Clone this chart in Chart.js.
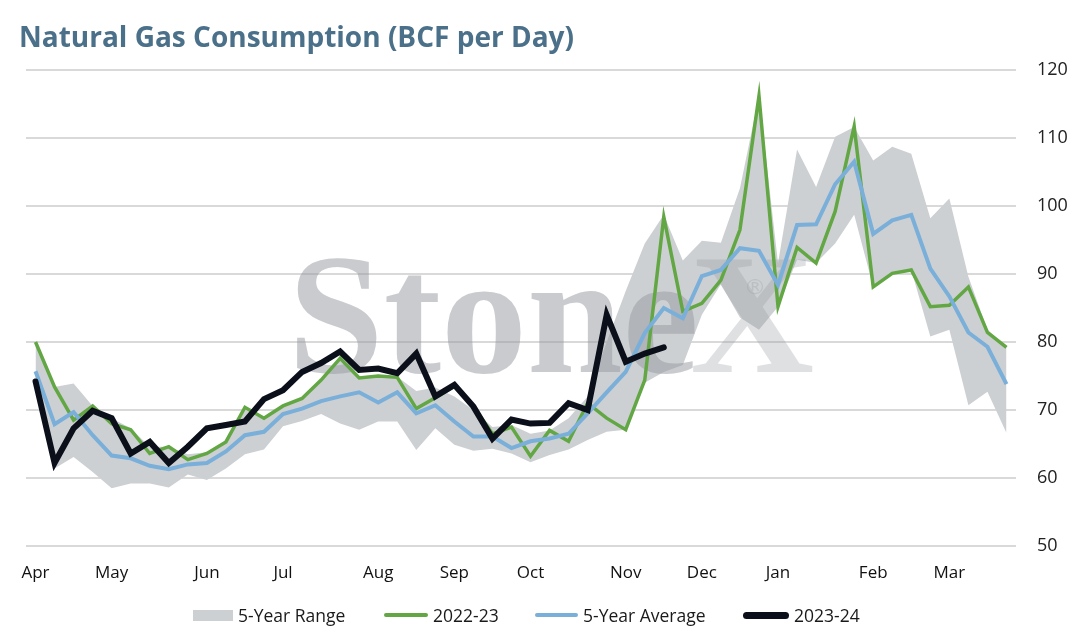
<!DOCTYPE html>
<html>
<head>
<meta charset="utf-8">
<script src="https://cdn.jsdelivr.net/npm/chart.js@4.4.1/dist/chart.umd.min.js"></script>
<style>
  html, body { margin: 0; padding: 0; background: #fff; }
  #wrap { position: relative; width: 1076px; height: 633px; overflow: hidden; }
  #title {
    position: absolute; left: 19px; top: 22px; line-height: 1;
    font-family: "Open Sans", sans-serif; font-weight: 700; font-size: 28px;
    color: #4b7089; white-space: nowrap;
  }
  #chart { position: absolute; left: 0; top: 0; }
  .lg { position: absolute; top: 603px; height: 24px; display: flex; align-items: center;
        font-family: "Open Sans", sans-serif; font-size: 17.5px; color: #1a1a1a; white-space: nowrap; }
  .sw { display: inline-block; margin-right: 5px; }
</style>
</head>
<body>
<div id="wrap">
  <canvas id="chart" width="1076" height="633"></canvas>
  <div id="title">Natural Gas Consumption (BCF per Day)</div>
  <div id="legend"></div>
</div>
<script>
// weekly points, April -> March (52 weeks)
const weekLabels = [
  "Apr", "", "", "", "May", "", "", "", "", "Jun", "", "", "", "Jul", "", "", "", "",
  "Aug", "", "", "", "Sep", "", "", "", "Oct", "", "", "", "", "Nov", "", "", "",
  "Dec", "", "", "", "Jan", "", "", "", "", "Feb", "", "", "", "Mar", "", "", ""
];

const rangeHigh = [
  79.5, 73.4, 73.9, 70.6, 68.8, 67.3, 64.6, 64.6, 63.5, 63.8, 65.5, 70.4, 68.8, 70.6,
  71.9, 74.4, 77.6, 74.9, 75.2, 74.9, 72.8, 73.3, 72.0, 70.0, 67.5, 67.8, 66.5, 67.0,
  68.8, 72.0, 80.0, 87.5, 94.5, 98.7, 92.0, 94.9, 94.6, 102.6, 116.2, 91.6, 108.3,
  102.8, 110.2, 111.6, 106.7, 108.7, 107.7, 98.2, 101.1, 89.6, 81.8, 79.2
];

const rangeLow = [
  74.0, 61.4, 63.1, 60.9, 58.5, 59.2, 59.2, 58.6, 60.5, 59.7, 61.4, 63.5, 64.2, 67.6,
  68.4, 69.4, 68.0, 67.1, 68.3, 68.3, 64.1, 67.3, 64.9, 64.0, 64.3, 63.6, 62.3, 63.4,
  64.2, 65.6, 66.8, 67.1, 74.0, 75.6, 76.6, 84.0, 88.5, 83.6, 81.8, 85.2, 92.1, 91.6,
  94.5, 98.7, 88.1, 90.1, 90.6, 80.8, 81.8, 70.7, 72.7, 66.6
];

const season2022 = [
  80.0, 73.4, 68.5, 70.6, 68.0, 67.1, 63.6, 64.6, 62.7, 63.6, 65.3, 70.4, 68.8, 70.6,
  71.7, 74.4, 77.6, 74.7, 75.0, 74.8, 70.2, 71.8, 73.5, 70.5, 66.5, 67.5, 63.2, 67.0,
  65.4, 71.0, 68.8, 67.1, 74.4, 98.4, 84.5, 85.7, 89.1, 96.5, 116.2, 85.2, 93.9, 91.6,
  99.2, 111.7, 88.1, 90.1, 90.6, 85.2, 85.4, 88.1, 81.4, 79.2
];

const fiveYearAvg = [
  75.7, 67.9, 69.7, 66.3, 63.3, 62.9, 61.8, 61.3, 62.0, 62.2, 63.9, 66.3, 66.8, 69.4,
  70.2, 71.3, 72.0, 72.6, 71.1, 72.6, 69.5, 70.7, 68.3, 66.1, 66.1, 64.4, 65.4, 65.8,
  66.5, 69.5, 72.6, 75.6, 81.3, 85.0, 83.5, 89.7, 90.6, 93.8, 93.4, 88.4, 97.2, 97.3,
  103.2, 106.5, 95.9, 97.9, 98.7, 90.8, 86.7, 81.4, 79.3, 73.8
];

// current season, only through mid-November
const season2023 = [
  74.2, 62.2, 67.3, 69.9, 68.8, 63.6, 65.3, 62.2, 64.6, 67.3, 67.8, 68.3, 71.6, 72.9,
  75.6, 76.9, 78.6, 75.9, 76.1, 75.4, 78.3, 72.0, 73.7, 70.5, 65.8, 68.6, 68.0, 68.1,
  71.0, 70.0, 84.0, 77.1, 78.3, 79.2
];

const yTicks = [50, 60, 70, 80, 90, 100, 110, 120];

const GREEN = "#62a744";
const BLUE = "#7aafda";
const BLACK = "#0a0f1a";
const BAND = "#cdd0d2";

// legend is plain html under the plot
const legendItems = [
  { text: "5-Year Range", color: BAND, left: 193, w: 40, h: 11, r: 0 },
  { text: "2022-23", color: GREEN, left: 384, w: 44, h: 4, r: 2 },
  { text: "5-Year Average", color: BLUE, left: 535, w: 43, h: 4, r: 2 },
  { text: "2023-24", color: BLACK, left: 743, w: 46, h: 7, r: 4 },
];
const legendEl = document.getElementById("legend");
legendItems.forEach(it => {
  const d = document.createElement("div");
  d.className = "lg";
  d.style.left = it.left + "px";
  const sw = document.createElement("span");
  sw.className = "sw";
  sw.style.width = it.w + "px";
  sw.style.height = it.h + "px";
  sw.style.background = it.color;
  sw.style.borderRadius = it.r + "px";
  d.appendChild(sw);
  d.appendChild(document.createTextNode(it.text));
  legendEl.appendChild(d);
});

// StoneX watermark between the band and the lines
const watermark = {
  id: "watermark",
  afterDatasetDraw(chart, args) {
    if (args.index !== 1) return;
    const ctx = chart.ctx;
    ctx.save();
    ctx.fillStyle = "rgba(150,152,160,0.5)";
    ctx.font = 'bold 172px "Liberation Serif", serif';
    ctx.fillText("Stone", 288, 372);
    ctx.fillStyle = "rgba(150,152,160,0.3)";
    ctx.fillText("X", 690, 372);
    ctx.font = '22px "DejaVu Sans", sans-serif';
    ctx.fillText("\u00AE", 744, 294);
    ctx.restore();
  }
};

const ctx = document.getElementById("chart");
new Chart(ctx, {
  type: "line",
  data: {
    labels: weekLabels,
    datasets: [
      { label: "range-low", data: rangeLow, borderWidth: 0, pointRadius: 0, fill: false, order: 6 },
      { label: "5-Year Range", data: rangeHigh, borderWidth: 0, pointRadius: 0,
        backgroundColor: BAND, fill: "-1", order: 5 },
      { label: "2022-23", data: season2022, borderColor: GREEN, borderWidth: 3.5, pointRadius: 0, order: 3 },
      { label: "5-Year Average", data: fiveYearAvg, borderColor: BLUE, borderWidth: 4, pointRadius: 0, order: 2 },
      { label: "2023-24", data: season2023, borderColor: BLACK, borderWidth: 6, pointRadius: 0,
        borderCapStyle: "round", order: 1 },
    ],
  },
  options: {
    responsive: false,
    animation: false,
    layout: { padding: { left: 26, right: 0, top: 70, bottom: 47 } },
    plugins: {
      tooltip: { enabled: false },
      legend: { display: false },
    },
    scales: {
      x: {
        offset: true,
        grid: { display: false },
        border: { display: false },
        ticks: {
          autoSkip: false,
          maxRotation: 0,
          padding: 9,
          color: "#111",
          font: { family: "Open Sans", size: 17 },
        },
        afterFit: (s) => { s.height = 40; },
      },
      y: {
        position: "right",
        min: 50,
        max: 120,
        afterBuildTicks: (s) => { s.ticks = yTicks.map(v => ({ value: v })); },
        grid: { color: "#d9d9d9", lineWidth: 2, drawTicks: false },
        border: { display: false },
        ticks: {
          padding: 21,
          color: "#222",
          font: { family: "Open Sans", size: 18 },
        },
        afterFit: (s) => { s.width = 60; },
      },
    },
  },
  plugins: [watermark],
});
</script>
</body>
</html>
